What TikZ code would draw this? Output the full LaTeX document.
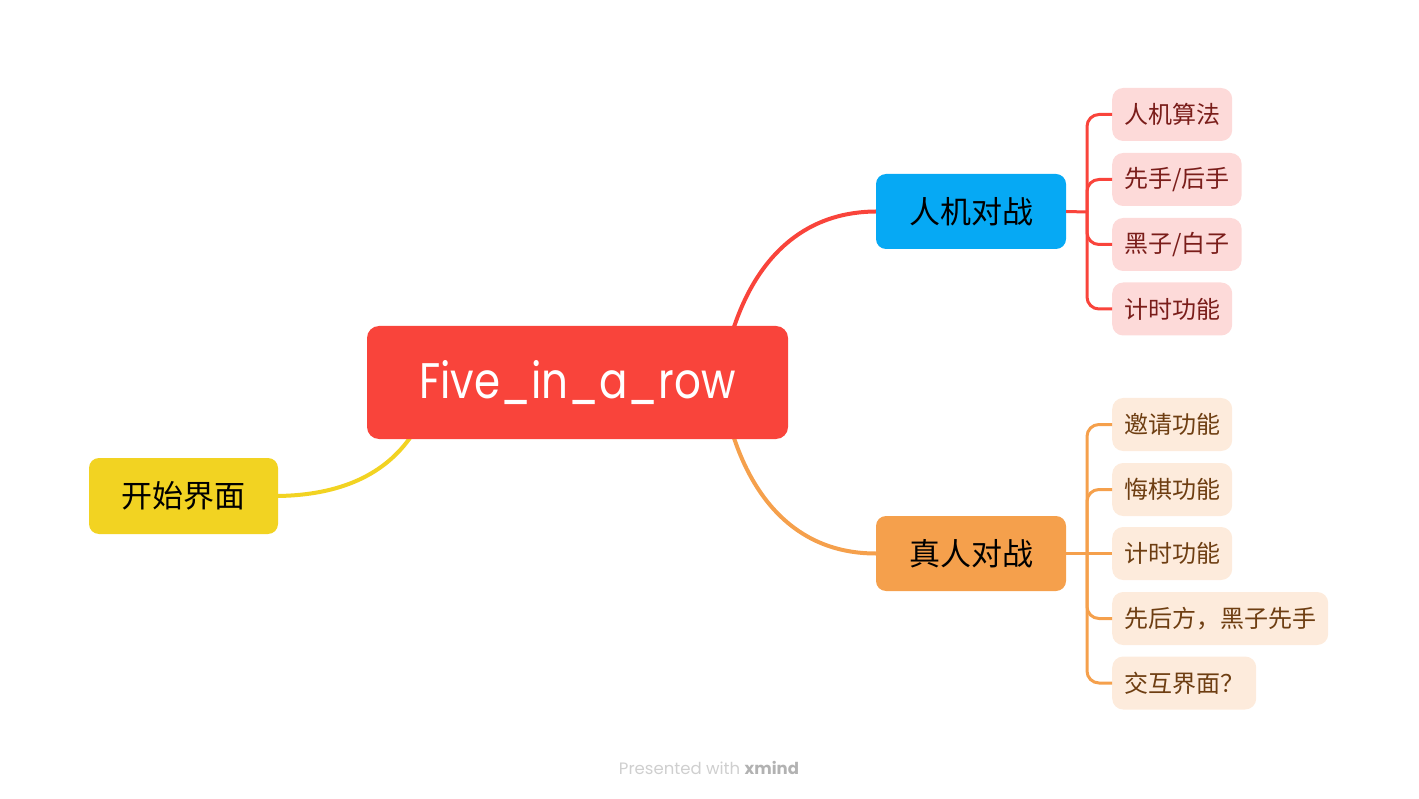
\documentclass[tikz,border=0pt]{standalone}
\usepackage{fontspec}
\setmainfont{Poppins}
\newfontfamily\cjk{Noto Sans CJK SC}
\newfontfamily\pop{Poppins}
\newfontfamily\popnarrow[FakeStretch=0.84]{Poppins}
\definecolor{cred}{HTML}{F9443B}
\definecolor{cblue}{HTML}{06A9F4}
\definecolor{corange}{HTML}{F5A04C}
\definecolor{cyellow}{HTML}{F2D322}
\definecolor{pinkfill}{HTML}{FDDAD9}
\definecolor{pinktext}{HTML}{7A1D1A}
\definecolor{peachfill}{HTML}{FDEBDC}
\definecolor{peachtext}{HTML}{6E3E12}
\definecolor{footgray}{HTML}{CFCFCF}
\tikzset{
  maintopic/.style={rounded corners=10pt, minimum width=190pt, minimum height=75pt, inner sep=0pt, font=\cjk\fontsize{31}{36}\selectfont, text=black},
  subtopic/.style={rounded corners=11pt, minimum height=53pt, inner xsep=12pt, inner ysep=0pt, anchor=west, font=\cjk\fontsize{24}{28}\selectfont},
  redsub/.style={subtopic, fill=pinkfill, text=pinktext},
  orsub/.style={subtopic, fill=peachfill, text=peachtext},
  mainline/.style={line width=4pt},
  subline/.style={line width=3pt, rounded corners=12pt},
}
\begin{document}
\begin{tikzpicture}[x=1pt,y=-1pt]
\useasboundingbox (0,0) rectangle (1419,799);
\coordinate (ctop) at (733,330);
\coordinate (cbot) at (733,435);
\coordinate (cleft) at (412,435);
\coordinate (rtrunk) at (1087,212);
\coordinate (otrunk) at (1087,553.5);
\node[maintopic, fill=cblue] (hj) at (971,211.5) {人机对战};
\node[maintopic, fill=corange] (zr) at (971,553.5) {真人对战};
\node[maintopic, fill=cyellow, minimum width=189pt, minimum height=76pt] (ks) at (183.5,496) {开始界面};
\draw[mainline, cred] (ctop) .. controls (755,262) and (800,212) .. (hj.west);
\draw[mainline, corange] (cbot) .. controls (755,503) and (800,553.5) .. (zr.west);
\draw[mainline, cyellow] (cleft) .. controls (385,475) and (340,495) .. (ks.east);
\node[rounded corners=12pt, fill=cred, minimum width=421pt, minimum height=113pt, inner sep=0pt, text=white, font=\popnarrow\fontsize{50}{58}\selectfont] (c) at (577.5,382.5) {Five\_in\_a\_row};
\node[redsub] (r1) at (1112,114.5) {人机算法};
\node[redsub] (r2) at (1112,179.5) {先手/后手};
\node[redsub] (r3) at (1112,244.5) {黑子/白子};
\node[redsub] (r4) at (1112,309) {计时功能};
\draw[subline, cred] (hj.east) -- (rtrunk);
\foreach \n in {r1,r2,r3,r4} \draw[subline, cred] (rtrunk) |- (\n.west);
\node[orsub] (o1) at (1112,424.5) {邀请功能};
\node[orsub] (o2) at (1112,489.5) {悔棋功能};
\node[orsub] (o3) at (1112,553.5) {计时功能};
\node[orsub] (o4) at (1112,618.5) {先后方，黑子先手};
\node[orsub] (o5) at (1112,683) {交互界面？};
\draw[subline, corange] (zr.east) -- (otrunk);
\foreach \n in {o1,o2,o4,o5} \draw[subline, corange] (otrunk) |- (\n.west);
\draw[subline, corange] (otrunk) -- (o3.west);
\node[text=footgray, font=\pop\fontsize{16.5}{20}\selectfont] (foot) at (709,768) {Presented with \textbf{\color{black!30}xmind}};
\end{tikzpicture}
\end{document}
